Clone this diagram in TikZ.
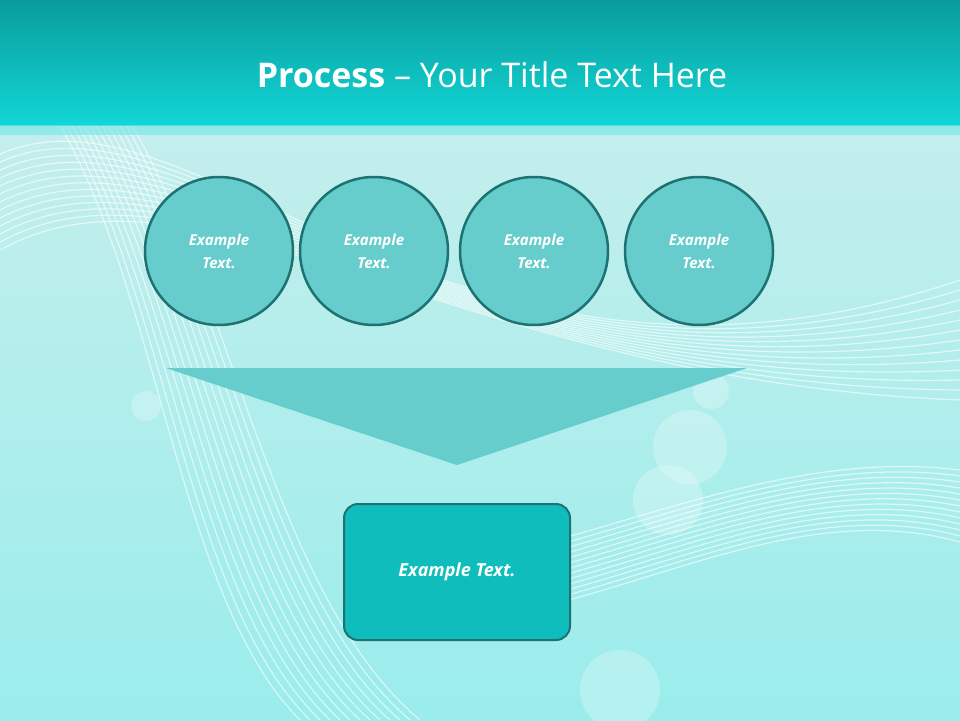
\documentclass[tikz,border=0pt]{standalone}
\usepackage{fontspec}
\setmainfont{Open Sans}
\definecolor{bgc}{HTML}{B5EAE8}
\definecolor{bandtop}{HTML}{0A9C9C}
\definecolor{bandbot}{HTML}{12D6D6}
\definecolor{circfill}{HTML}{66CCCC}
\definecolor{circline}{HTML}{1E7272}
\definecolor{boxfill}{HTML}{0FBDBD}
\begin{document}
\begin{tikzpicture}[x=1pt,y=-1pt,
  circ/.style={circle,minimum size=148pt,fill=circfill,draw=circline,line width=2.5pt,text=white,font=\bfseries\itshape\fontsize{15}{23}\selectfont,align=center,inner sep=0pt},
  wave/.style={white,opacity=0.6,line width=1.2pt}]
\useasboundingbox (0,0) rectangle (960,720);
\fill[top color=bgc!80!white,bottom color=bgc!85!cyan] (0,125) rectangle (960,720);
% decorative waves
\foreach \i in {0,...,12}{
  \draw[wave] (0,{250-\i*8}) .. controls (200,{140-\i*6}) and (450,{380+\i*6}) .. (960,{400-\i*10});
  \draw[wave] ({60+\i*6},125) .. controls ({160+\i*6},300) and ({180+\i*8},600) .. ({300+\i*10},720);
  \draw[wave] (480,{560+\i*5}) .. controls (650,{520+\i*6}) and (800,{450+\i*4}) .. (960,{470+\i*6});
}
\foreach \p/\r in {{146,406}/15,{690,447}/37,{668,500}/35,{711,391}/18,{620,690}/40}
  \fill[white,opacity=0.25] (\p) circle (\r);
% title band
\fill[top color=bandtop,bottom color=bandbot] (0,0) rectangle (960,125);
\fill[bandbot!60!white,opacity=0.6] (0,125) rectangle (960,135);
\node[text=white,font=\fontsize{34}{40}\selectfont] (title) at (492,75) {\textbf{Process} -- Your Title Text Here};
% circles
\node[circ] (c1) at (219,251) {Example\\Text.};
\node[circ] (c2) at (374,251) {Example\\Text.};
\node[circ] (c3) at (534,251) {Example\\Text.};
\node[circ] (c4) at (699,251) {Example\\Text.};
% triangle
\fill[circfill] (166,368) -- (747,368) -- (457,465) -- cycle;
% box
\node[draw=circline,fill=boxfill,line width=2pt,rounded corners=14pt,minimum width=226pt,minimum height=136pt,text=white,font=\bfseries\itshape\fontsize{18}{22}\selectfont] (box) at (457,572) {Example Text.};
\end{tikzpicture}
\end{document}
